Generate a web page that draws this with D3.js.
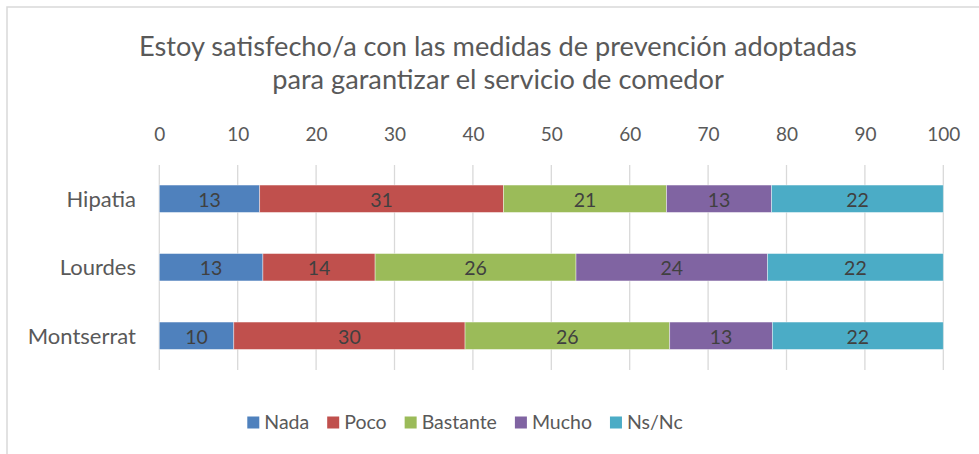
<!DOCTYPE html>
<html>
<head>
<meta charset="utf-8">
<script src="https://cdn.jsdelivr.net/npm/d3@7"></script>
<style>
    body { margin: 0; background: #fff; }
    text { font-family: Lato, "Open Sans", sans-serif; }
</style>
</head>
<body>
<div id="chart"></div>
<script>
// data
let schools = ["Hipatia", "Lourdes", "Montserrat"];
let answers = ["Nada", "Poco", "Bastante", "Mucho", "Ns/Nc"];
let nada = [12.8, 13.2, 9.5];
let poco = [31.1, 14.3, 29.5];
let bastante = [20.8, 25.6, 26.1];
let mucho = [13.4, 24.4, 13.1];
let nsnc = [21.9, 22.4, 21.8];
let ticks = [0, 10, 20, 30, 40, 50, 60, 70, 80, 90, 100];
let colors = ["#4f81bd", "#c0504d", "#9bbb59", "#8064a2", "#4bacc6"];
let title = ["Estoy satisfecho/a con las medidas de prevención adoptadas",
    "para garantizar el servicio de comedor"];

let w = 979, h = 454;
let svg = d3.select("#chart").append("svg")
    .attr("width", w)
    .attr("height", h);

// chart area frame (only top and left edges show in the picture)
svg.append("path")
    .attr("d", "M7," + h + "V7H" + w)
    .attr("fill", "none")
    .attr("stroke", "#d9d9d9")
    .attr("stroke-width", 1.5);

// title
svg.append("text")
    .attr("x", 498)
    .attr("y", 56)
    .attr("text-anchor", "middle")
    .attr("fill", "#595959")
    .style("font-size", "27.2px")
    .selectAll("tspan")
    .data(title)
    .enter()
    .append("tspan")
    .attr("x", 498)
    .attr("dy", (d, i) => i == 0 ? 0 : 32.6)
    .text(d => d);

let x = d3.scaleLinear().domain([0, 100]).range([159.3, 943.3]);
let y = d3.scaleBand().domain(schools).range([164.5, 370])
    .paddingInner(0.6).paddingOuter(0.3);

// gridlines
svg.append("g")
    .selectAll("line")
    .data(ticks)
    .enter()
    .append("line")
    .attr("x1", d => x(d))
    .attr("x2", d => x(d))
    .attr("y1", 165)
    .attr("y2", 370)
    .attr("stroke", "#d9d9d9")
    .attr("stroke-width", 1.3);

// top axis labels
let axis = svg.append("g")
    .attr("transform", "translate(0,140.5)")
    .call(d3.axisTop(x).tickValues(ticks).tickSize(0).tickPadding(0));
axis.select(".domain").remove();
axis.selectAll("text")
    .attr("dy", 0)
    .attr("fill", "#595959")
    .style("font-family", "Lato, sans-serif")
    .style("font-size", "19px");

// category labels
svg.append("g")
    .selectAll("text")
    .data(schools)
    .enter()
    .append("text")
    .attr("x", 136)
    .attr("y", d => y(d) + y.bandwidth() / 2)
    .attr("dy", "0.36em")
    .attr("text-anchor", "end")
    .attr("fill", "#595959")
    .style("font-size", "22px")
    .text(d => d);

// stack the series, normalised to 100 like a 100% stacked bar
let rows = schools.map((s, i) => {
    let row = { school: s };
    let vals = [nada[i], poco[i], bastante[i], mucho[i], nsnc[i]];
    let total = d3.sum(vals);
    answers.forEach((a, j) => {
        row[a] = vals[j];
        row[a + "_pct"] = vals[j] / total * 100;
    });
    return row;
});
let stack = d3.stack()
    .keys(answers)
    .value((d, key) => d[key + "_pct"]);
let series = stack(rows);

let layers = svg.append("g")
    .selectAll("g")
    .data(series)
    .enter()
    .append("g")
    .attr("fill", (d, i) => colors[i]);

layers.selectAll("rect")
    .data(d => d)
    .enter()
    .append("rect")
    .attr("x", d => x(d[0]))
    .attr("y", d => y(d.data.school))
    .attr("width", d => x(d[1]) - x(d[0]))
    .attr("height", y.bandwidth())
    .attr("stroke", "#fff")
    .attr("stroke-opacity", 0.5)
    .attr("stroke-width", 0.8);

// value labels
layers.each(function (s) {
    d3.select(this).selectAll("text")
        .data(s)
        .enter()
        .append("text")
        .attr("x", d => (x(d[0]) + x(d[1])) / 2)
        .attr("y", d => y(d.data.school) + y.bandwidth() / 2)
        .attr("dy", "0.4em")
        .attr("text-anchor", "middle")
        .attr("fill", "#404040")
        .style("font-size", "19.5px")
        .text(d => Math.round(d.data[s.key]));
});

// legend, centred as a row
let gap = 18;
let legend = svg.append("g");
let items = legend.selectAll("g")
    .data(answers)
    .enter()
    .append("g");
items.append("rect")
    .attr("width", 12)
    .attr("height", 12)
    .attr("y", -12.5)
    .attr("fill", (d, i) => colors[i]);
items.append("text")
    .attr("x", 17)
    .attr("fill", "#595959")
    .style("font-size", "19.5px")
    .text(d => d);
let pos = 0;
items.each(function () {
    let g = d3.select(this);
    g.attr("transform", "translate(" + pos + ",0)");
    pos += 17 + g.select("text").node().getComputedTextLength() + gap;
});
let legend_width = pos - gap;
legend.attr("transform", "translate(" + (465 - legend_width / 2) + ",429)");
</script>
</body>
</html>
